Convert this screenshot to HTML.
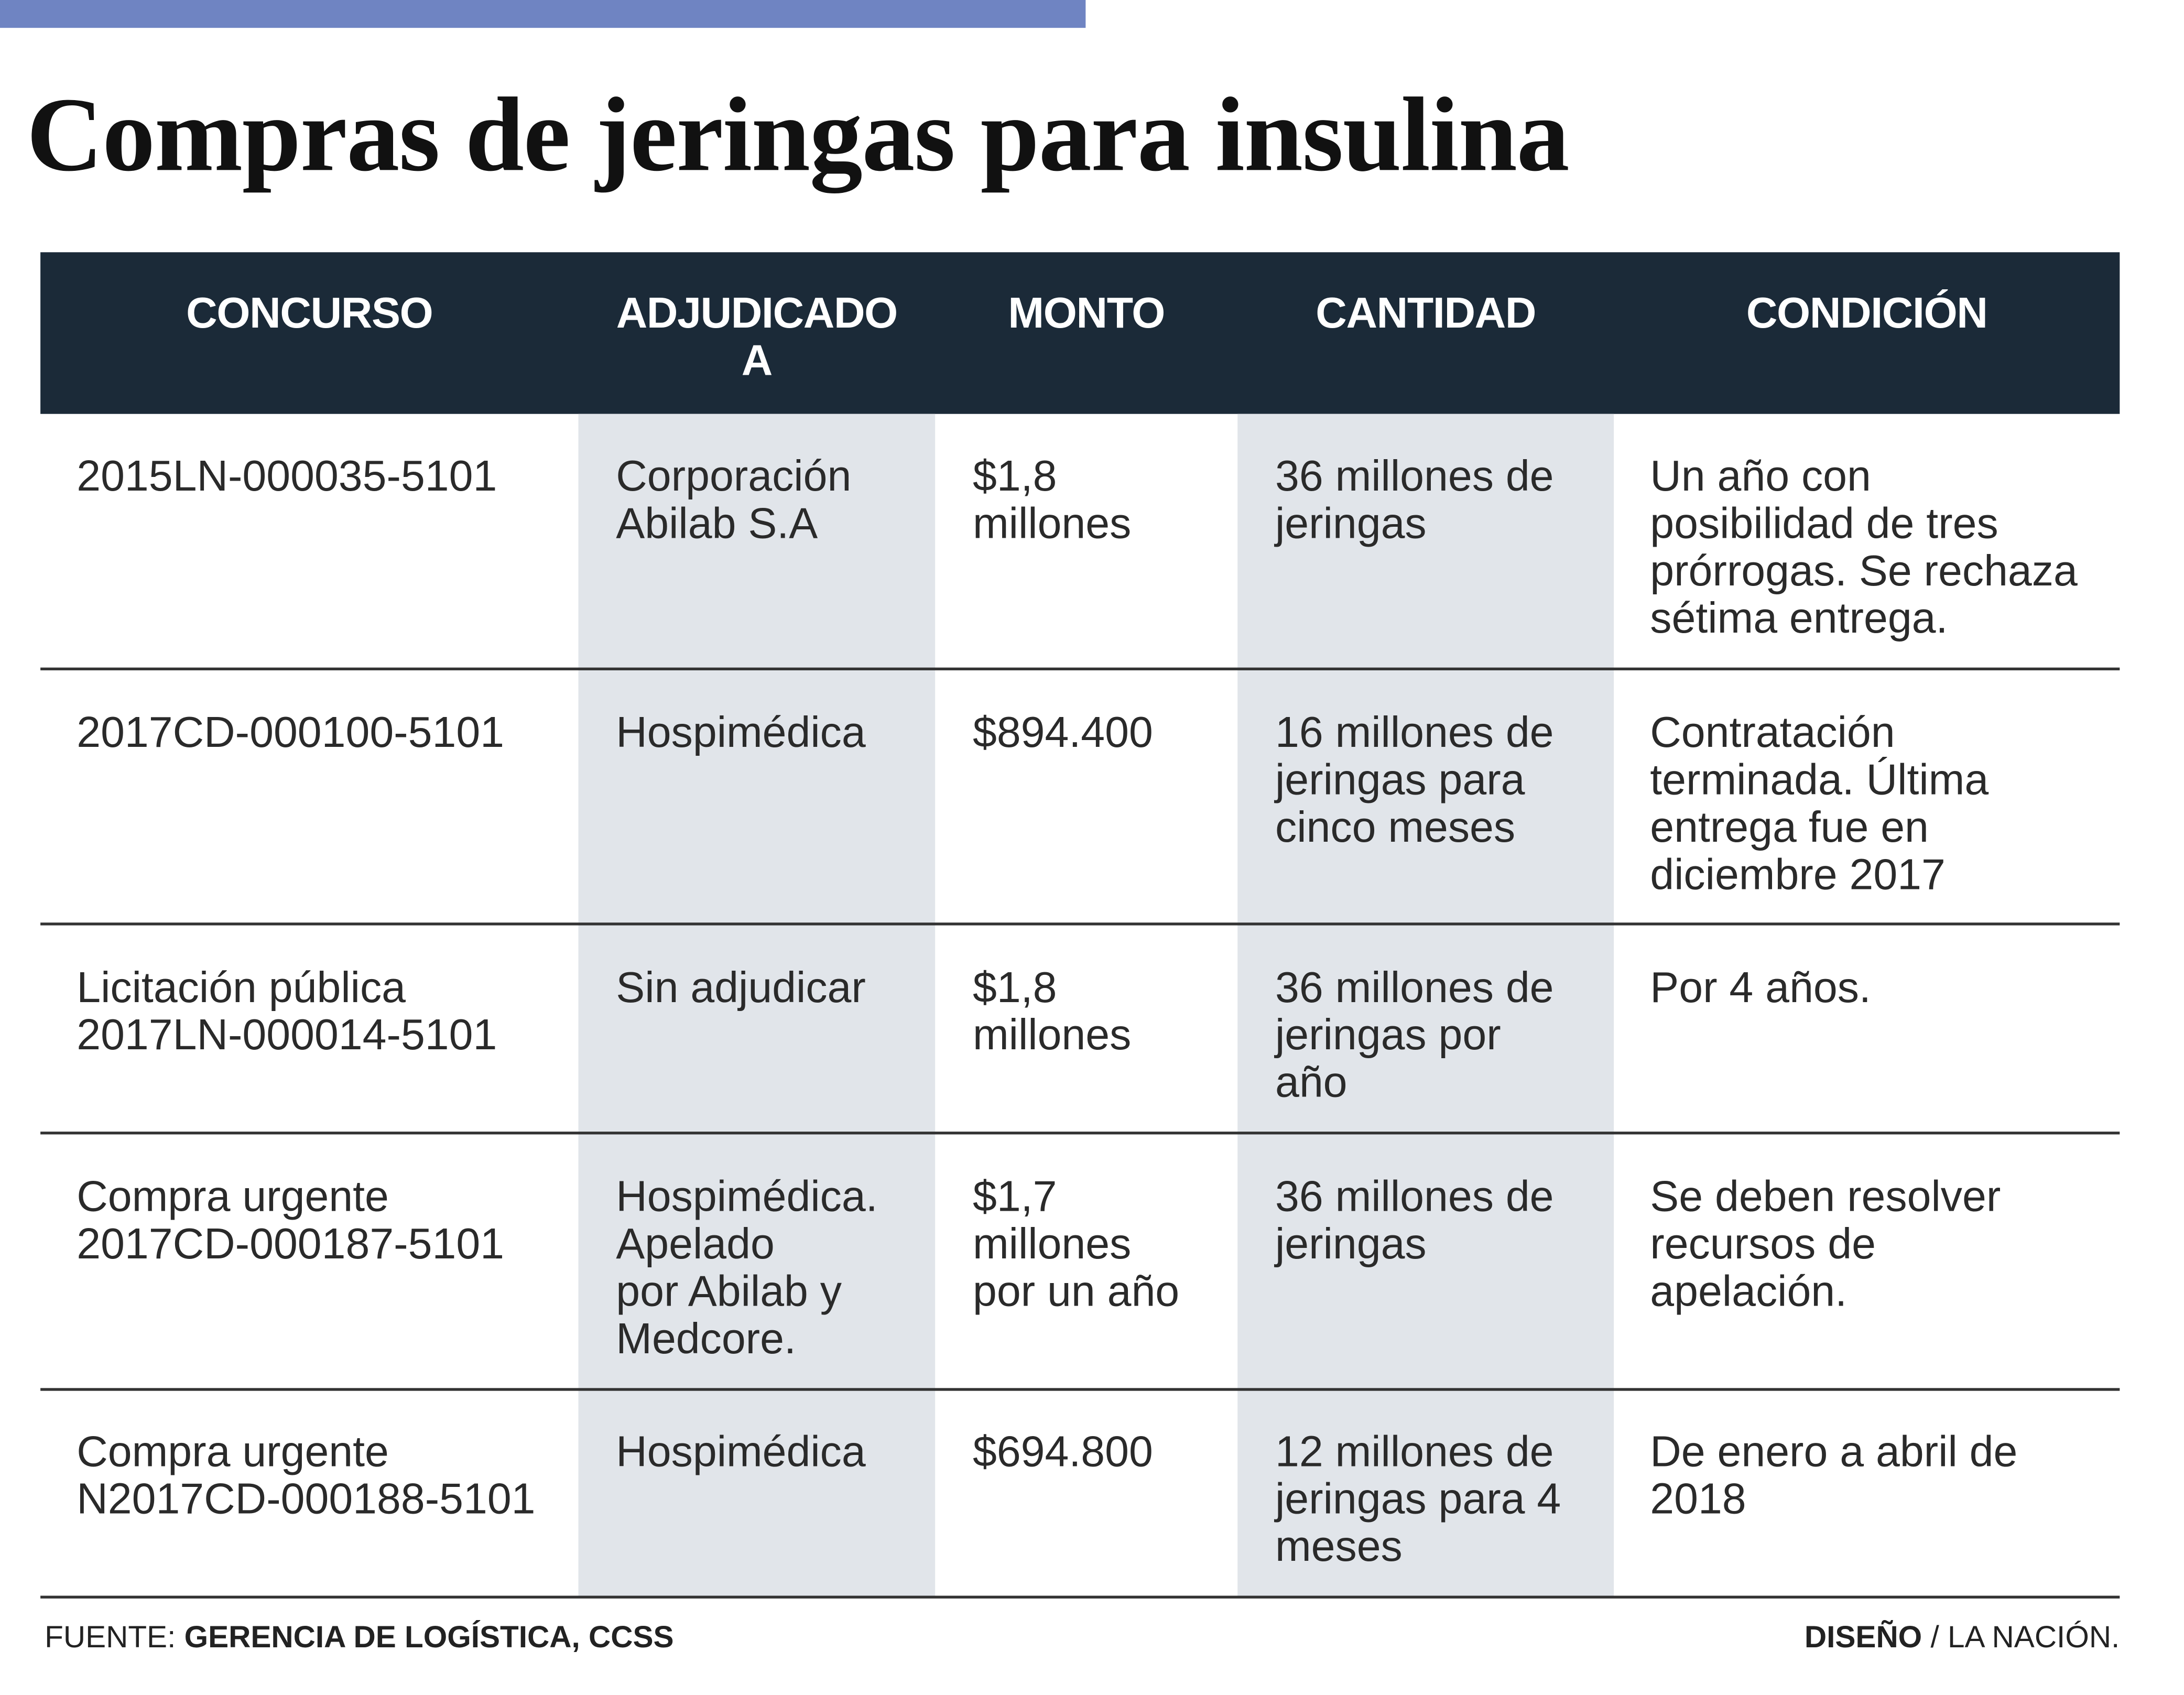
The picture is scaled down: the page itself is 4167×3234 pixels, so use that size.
<!DOCTYPE html>
<html><head><meta charset="utf-8"><style>
html,body{margin:0;padding:0;background:#fff;}
body{width:4167px;height:3234px;overflow:hidden;position:relative;}
#w{position:absolute;left:0;top:0;width:1567px;height:1216px;transform:scale(2.659);transform-origin:0 0;font-family:"Liberation Sans",sans-serif;}
.bar{position:absolute;left:0;top:0;width:779px;height:20px;background:#6f84c2;}
h1{position:absolute;left:19px;top:52px;margin:0;font-family:"Liberation Serif",serif;font-weight:bold;font-size:76px;line-height:90px;color:#111;letter-spacing:-0.5px;white-space:nowrap;}
.hdr{position:absolute;left:29px;top:181px;width:1492px;height:116px;background:#1b2a38;}
.shade{position:absolute;background:#e1e5ea;top:297px;height:849px;}
.h{position:absolute;color:#fff;font-weight:bold;font-size:31px;line-height:34px;text-align:center;top:208px;letter-spacing:-0.5px;}
.line{position:absolute;left:29px;width:1492px;height:2px;background:#333;}
.c{position:absolute;font-size:31px;line-height:34px;color:#2a2a2a;white-space:nowrap;}
.f{position:absolute;top:1162px;font-size:22px;color:#222;white-space:nowrap;}
</style></head><body><div id="w">
<div class="bar"></div>
<h1>Compras de jeringas para insulina</h1>
<div class="hdr"></div>
<div class="shade" style="left:415px;width:256px"></div>
<div class="shade" style="left:888px;width:270px"></div>
<div class="h" style="left:29px;width:386px">CONCURSO</div>
<div class="h" style="left:415px;width:256px">ADJUDICADO<br>A</div>
<div class="h" style="left:671px;width:217px">MONTO</div>
<div class="h" style="left:888px;width:270px">CANTIDAD</div>
<div class="h" style="left:1158px;width:363px">CONDICIÓN</div>
<div class="line" style="top:479px"></div>
<div class="line" style="top:662px"></div>
<div class="line" style="top:812px"></div>
<div class="line" style="top:996px"></div>
<div class="line" style="top:1145px"></div>

<div class="c" style="left:55px;top:325px">2015LN-000035-5101</div>
<div class="c" style="left:442px;top:325px">Corporación<br>Abilab S.A</div>
<div class="c" style="left:698px;top:325px">$1,8<br>millones</div>
<div class="c" style="left:915px;top:325px">36 millones de<br>jeringas</div>
<div class="c" style="left:1184px;top:325px">Un año con<br>posibilidad de tres<br>prórrogas. Se rechaza<br>sétima entrega.</div>

<div class="c" style="left:55px;top:509px">2017CD-000100-5101</div>
<div class="c" style="left:442px;top:509px">Hospimédica</div>
<div class="c" style="left:698px;top:509px">$894.400</div>
<div class="c" style="left:915px;top:509px">16 millones de<br>jeringas para<br>cinco meses</div>
<div class="c" style="left:1184px;top:509px">Contratación<br>terminada. Última<br>entrega fue en<br>diciembre 2017</div>

<div class="c" style="left:55px;top:692px">Licitación pública<br>2017LN-000014-5101</div>
<div class="c" style="left:442px;top:692px">Sin adjudicar</div>
<div class="c" style="left:698px;top:692px">$1,8<br>millones</div>
<div class="c" style="left:915px;top:692px">36 millones de<br>jeringas por<br>año</div>
<div class="c" style="left:1184px;top:692px">Por 4 años.</div>

<div class="c" style="left:55px;top:842px">Compra urgente<br>2017CD-000187-5101</div>
<div class="c" style="left:442px;top:842px">Hospimédica.<br>Apelado<br>por Abilab y<br>Medcore.</div>
<div class="c" style="left:698px;top:842px">$1,7<br>millones<br>por un año</div>
<div class="c" style="left:915px;top:842px">36 millones de<br>jeringas</div>
<div class="c" style="left:1184px;top:842px">Se deben resolver<br>recursos de<br>apelación.</div>

<div class="c" style="left:55px;top:1025px">Compra urgente<br>N2017CD-000188-5101</div>
<div class="c" style="left:442px;top:1025px">Hospimédica</div>
<div class="c" style="left:698px;top:1025px">$694.800</div>
<div class="c" style="left:915px;top:1025px">12 millones de<br>jeringas para 4<br>meses</div>
<div class="c" style="left:1184px;top:1025px">De enero a abril de<br>2018</div>

<div class="f" style="left:32px">FUENTE: <b>GERENCIA DE LOGÍSTICA, CCSS</b></div>
<div class="f" style="right:46px"><b>DISEÑO</b> / LA NACIÓN.</div>
</div></body></html>
